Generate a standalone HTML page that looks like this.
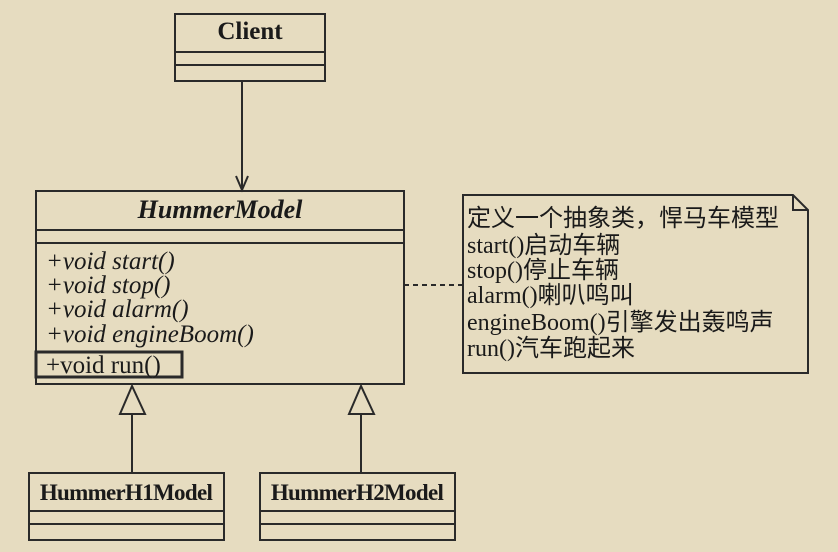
<!DOCTYPE html>
<html><head><meta charset="utf-8"><style>
html,body{margin:0;padding:0;background:#e6dcc0;}
svg{display:block}
text{font-family:"Liberation Serif","Noto Sans CJK SC",serif;fill:#1a1a1a}
</style></head><body>
<svg width="838" height="552" viewBox="0 0 838 552" xmlns="http://www.w3.org/2000/svg">
<rect width="838" height="552" fill="#e6dcc0"/>
<g stroke="#2a2a2a" stroke-width="2" fill="none">
<rect x="175" y="14" width="150" height="67"/>
<line x1="175" y1="52" x2="325" y2="52"/>
<line x1="175" y1="65" x2="325" y2="65"/>
<line x1="242" y1="81" x2="242" y2="190"/>
<polyline points="236,176 242,190 248,176"/>
<rect x="36" y="191" width="368" height="193"/>
<line x1="36" y1="230" x2="404" y2="230"/>
<line x1="36" y1="243" x2="404" y2="243"/>
<rect x="36" y="352" width="146" height="25" stroke-width="3"/>
<polygon points="132,386 120,414 145,414"/>
<line x1="132" y1="414" x2="132" y2="473"/>
<polygon points="361,386 349,414 374,414"/>
<line x1="361" y1="414" x2="361" y2="473"/>
<rect x="29" y="473" width="195" height="67"/>
<line x1="29" y1="511" x2="224" y2="511"/>
<line x1="29" y1="524" x2="224" y2="524"/>
<rect x="260" y="473" width="195" height="67"/>
<line x1="260" y1="511" x2="455" y2="511"/>
<line x1="260" y1="524" x2="455" y2="524"/>
<line x1="404" y1="285" x2="463" y2="285" stroke-dasharray="5,4"/>
<polygon points="463,195 793,195 808,210 808,373 463,373"/>
<polyline points="793,195 793,210 808,210"/>
</g>
<text x="250" y="39" font-size="25" font-weight="bold" text-anchor="middle">Client</text>
<text x="220" y="218" font-size="26" font-weight="bold" font-style="italic" text-anchor="middle">HummerModel</text>
<g font-size="25" font-style="italic">
<text x="46" y="269">+void start()</text>
<text x="46" y="293">+void stop()</text>
<text x="46" y="317">+void alarm()</text>
<text x="46" y="342">+void engineBoom()</text>
</g>
<text x="46" y="373" font-size="25">+void run()</text>
<text x="126" y="500" font-size="23" font-weight="bold" text-anchor="middle" letter-spacing="-0.7">HummerH1Model</text>
<text x="357" y="500" font-size="23" font-weight="bold" text-anchor="middle" letter-spacing="-0.7">HummerH2Model</text>
<g font-size="24">
<text x="467" y="226">定义一个抽象类，悍马车模型</text>
<text x="467" y="253">start()启动车辆</text>
<text x="467" y="278">stop()停止车辆</text>
<text x="467" y="303">alarm()喇叭鸣叫</text>
<text x="467" y="330">engineBoom()引擎发出轰鸣声</text>
<text x="467" y="356">run()汽车跑起来</text>
</g>
</svg>
</body></html>
